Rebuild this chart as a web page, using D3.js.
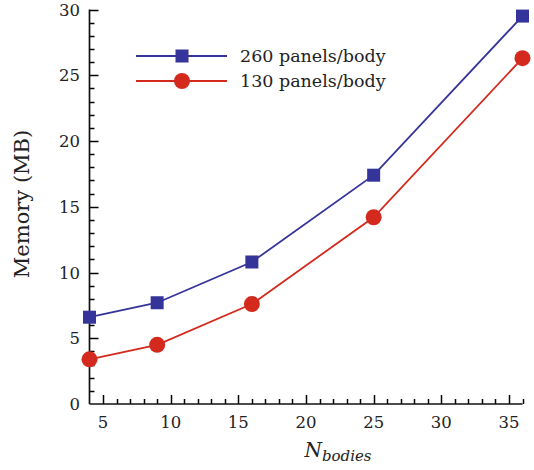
<!DOCTYPE html>
<html><head><meta charset="utf-8">
<script src="https://cdn.jsdelivr.net/npm/d3@7"></script>
<style>body{margin:0;background:#fff}svg text{font-family:'DejaVu Serif',serif;fill:#222}</style>
</head><body>
<svg id="c" width="534" height="470"></svg>
<script>
const xValues = [4, 9, 16, 25, 36];
const mem260 = [6.6, 7.7, 10.8, 17.4, 29.5];
const mem130 = [3.4, 4.5, 7.6, 14.2, 26.3];
const xTicks = [5, 10, 15, 20, 25, 30, 35];
const yTicks = [0, 5, 10, 15, 20, 25, 30];
const seriesNames = ["260 panels/body", "130 panels/body"];
const colors = ["#34349a", "#d42a1e"];

const svg = d3.select("#c");
const m = {l: 89.5, r: 522.5, t: 9.5, b: 404};
const x = d3.scaleLinear().domain([4, 36]).range([m.l, m.r]);
const y = d3.scaleLinear().domain([0, 30]).range([m.b, m.t]);

const xMinor = d3.range(5, 37, 1);
const yMinor = d3.range(1, 31, 1);
const ax = svg.append("g");
ax.append("g").selectAll("line").data(xMinor).join("line")
  .attr("x1", d => Math.round(x(d)) + 0.5).attr("x2", d => Math.round(x(d)) + 0.5)
  .attr("y1", m.b).attr("y2", d => m.b - (xTicks.includes(d) ? 9 : 5))
  .attr("stroke", "#000").attr("stroke-width", 1.5);
ax.append("g").selectAll("line").data(yMinor).join("line")
  .attr("y1", d => Math.round(y(d)) + 0.5).attr("y2", d => Math.round(y(d)) + 0.5)
  .attr("x1", m.l).attr("x2", d => m.l + (yTicks.includes(d) ? 9 : 5))
  .attr("stroke", "#000").attr("stroke-width", 1.5);
ax.append("line").attr("x1", m.l).attr("x2", m.r).attr("y1", m.b).attr("y2", m.b).attr("stroke", "#111").attr("stroke-width", 1.7);
ax.append("line").attr("x1", m.l).attr("x2", m.l).attr("y1", m.b).attr("y2", m.t).attr("stroke", "#111").attr("stroke-width", 1.7);

ax.append("g").selectAll("text").data(xTicks).join("text")
  .attr("x", d => x(d)).attr("y", 428).attr("text-anchor", "middle")
  .attr("font-size", 16.5).text(d => d);
ax.append("g").selectAll("text").data(yTicks).join("text")
  .attr("x", 80).attr("y", d => y(d) + 6).attr("text-anchor", "end")
  .attr("font-size", 16.5).text(d => d);

svg.append("text").attr("transform", "translate(29,204) rotate(-90)")
  .attr("text-anchor", "middle").attr("font-size", 21).text("Memory (MB)");
const xl = svg.append("text").attr("x", 338).attr("y", 457).attr("text-anchor", "middle")
  .attr("font-size", 20).attr("font-style", "italic");
xl.append("tspan").text("N");
xl.append("tspan").attr("font-size", 15).attr("dy", 4).text("bodies");

const line = d3.line().x(d => x(d[0])).y(d => y(d[1]));
const data = [mem260, mem130];
data.forEach((vals, i) => {
  const pts = xValues.map((xv, j) => [xv, vals[j]]);
  svg.append("path").attr("d", line(pts)).attr("fill", "none")
    .attr("stroke", colors[i]).attr("stroke-width", 1.8);
  if (i === 0) {
    svg.append("g").selectAll("rect").data(pts).join("rect")
      .attr("x", d => x(d[0]) - 6.5).attr("y", d => y(d[1]) - 6.5)
      .attr("width", 13).attr("height", 13).attr("fill", colors[i]);
  } else {
    svg.append("g").selectAll("circle").data(pts).join("circle")
      .attr("cx", d => x(d[0])).attr("cy", d => y(d[1])).attr("r", 8)
      .attr("fill", colors[i]);
  }
});

const lg = svg.append("g");
const legY = [56, 81];
seriesNames.forEach((n, i) => {
  lg.append("line").attr("x1", 136).attr("x2", 227).attr("y1", legY[i]).attr("y2", legY[i])
    .attr("stroke", colors[i]).attr("stroke-width", 1.8);
  if (i === 0) lg.append("rect").attr("x", 182 - 6.5).attr("y", legY[i] - 6.5).attr("width", 13).attr("height", 13).attr("fill", colors[i]);
  else lg.append("circle").attr("cx", 182).attr("cy", legY[i]).attr("r", 8).attr("fill", colors[i]);
  lg.append("text").attr("x", 240).attr("y", legY[i] + 6).attr("font-size", 17.5).text(n);
});
</script>
</body></html>
